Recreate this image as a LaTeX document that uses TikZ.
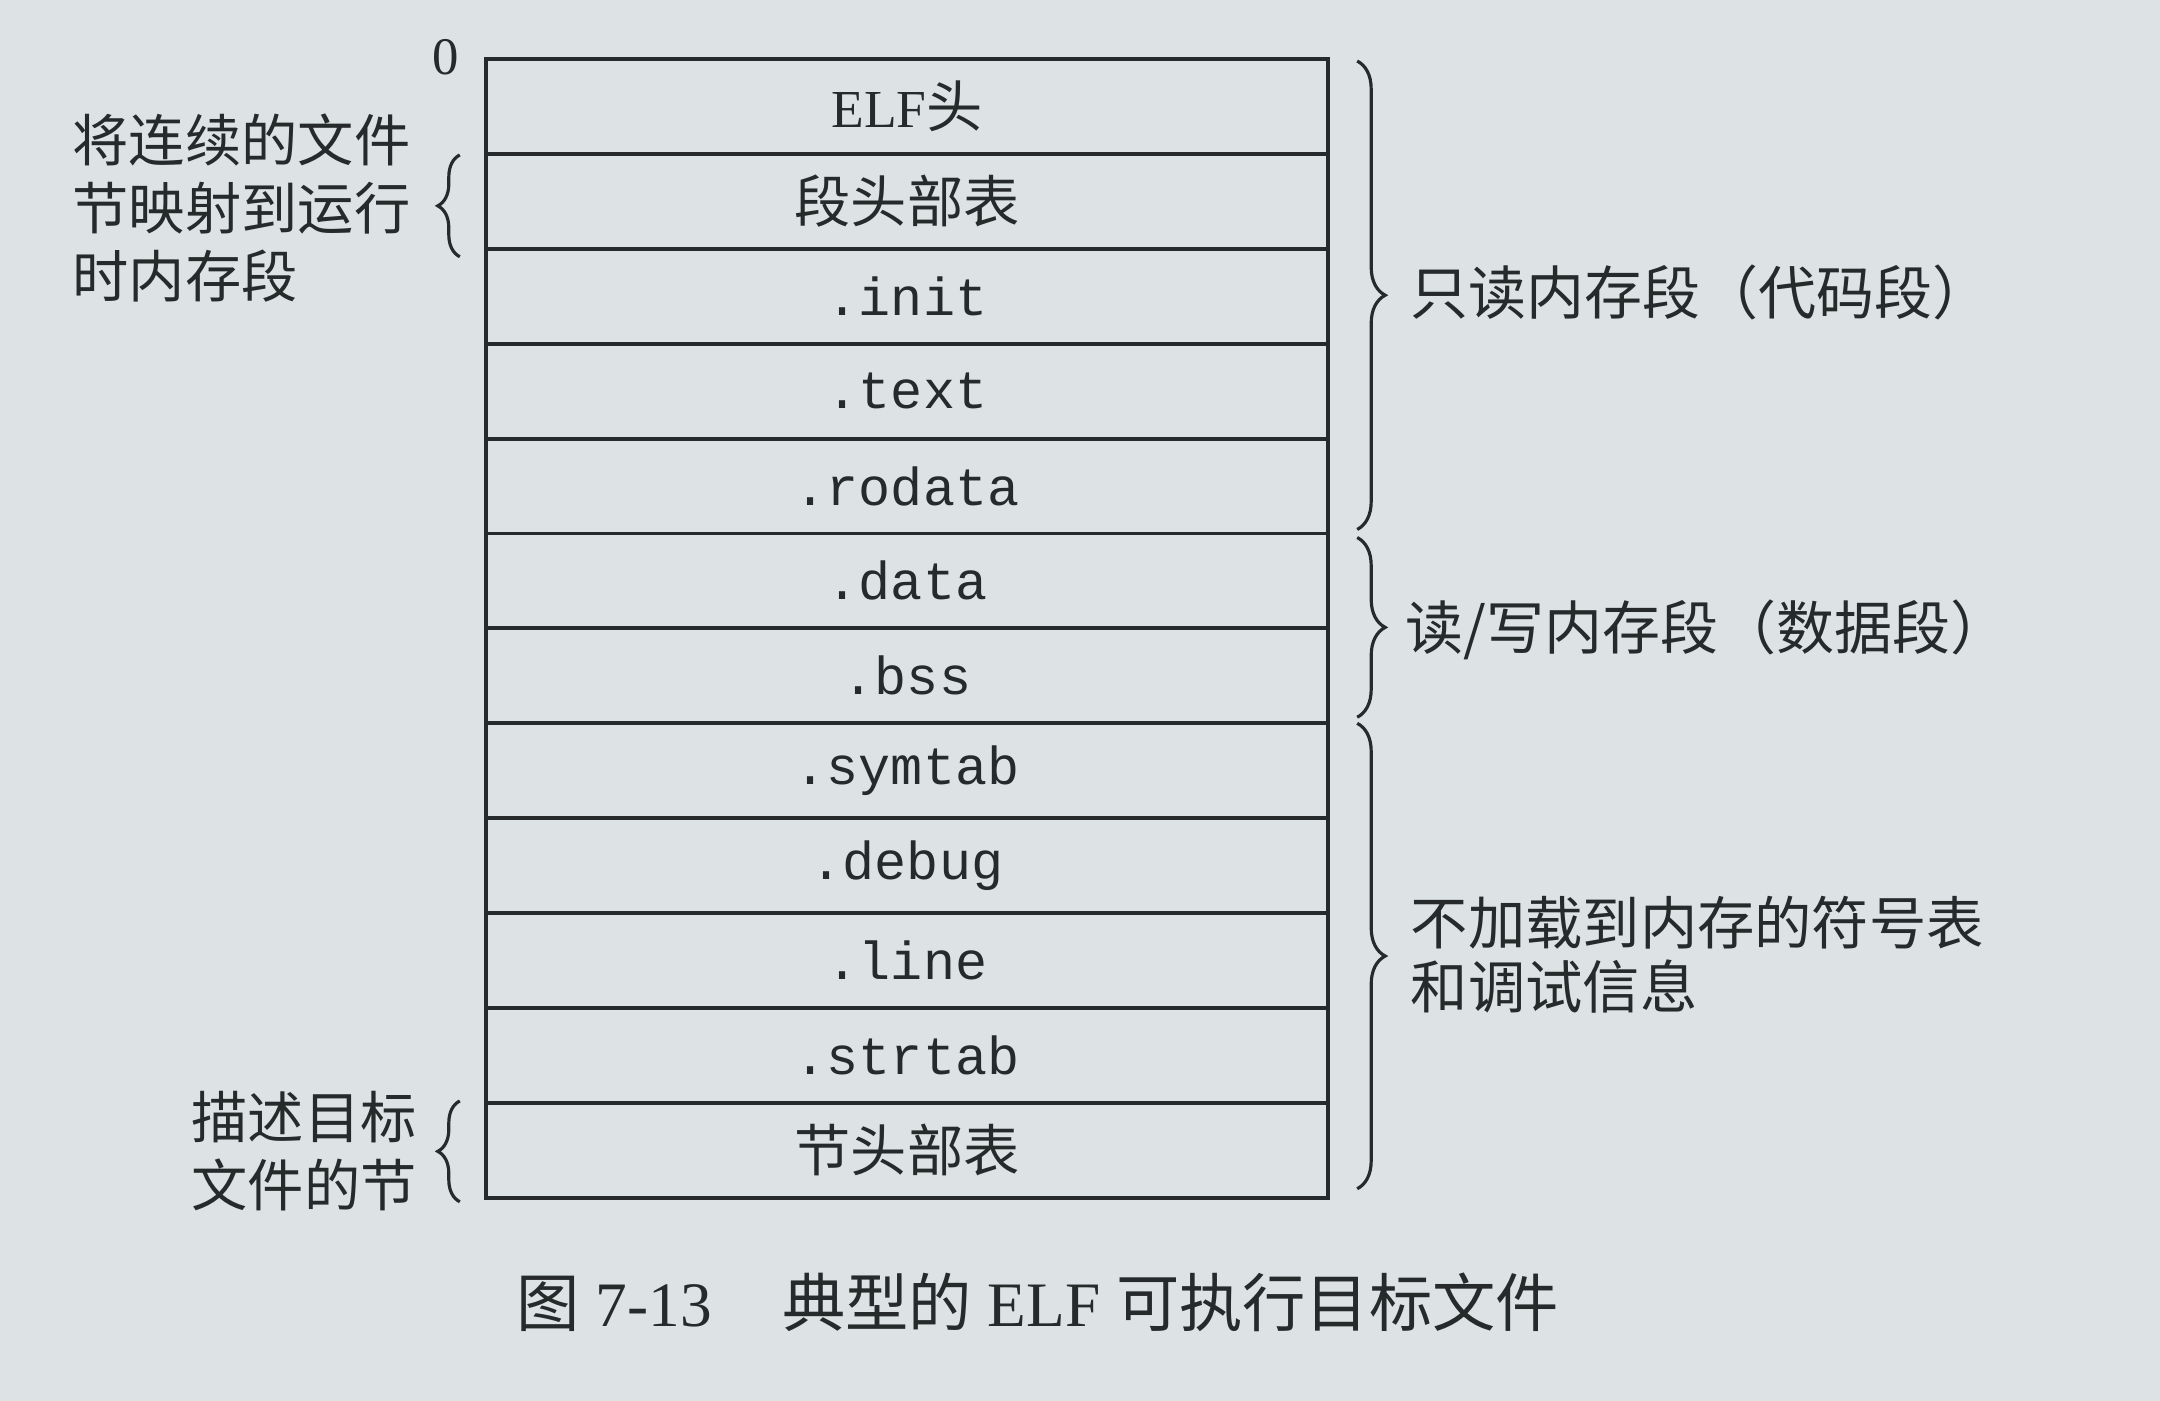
\documentclass[tikz,border=0pt]{standalone}
\usepackage{fontspec}
\setmainfont{Liberation Serif}
\setmonofont{Liberation Mono}
\newfontfamily\cjk{Noto Sans CJK SC}
\usetikzlibrary{decorations.pathreplacing}
\definecolor{paper}{RGB}{221,227,228}
\definecolor{ink}{RGB}{38,42,42}
\newcommand\zh[1]{{\fontsize{16}{19}\selectfont\cjk #1}}
\tikzset{
  sect/.style={draw=ink, line width=1.1pt, minimum width=8.42cm, minimum height=0.949cm,
    inner sep=0pt, text=ink, font=\fontsize{15.2}{18}\selectfont\ttfamily},
  rbrace/.style={draw=ink, line width=0.9pt, decorate, decoration={brace, amplitude=0.28cm}},
  lbrace/.style={draw=ink, line width=0.9pt, decorate, decoration={brace, amplitude=0.22cm}},
  note/.style={text=ink, inner sep=0pt, align=left, anchor=west},
}
\begin{document}
\begin{tikzpicture}[x=0.01cm,y=-0.01cm]
  \fill[paper] (0,0) rectangle (2160,1401);
  \useasboundingbox (0,0) rectangle (2160,1401);
  % the sections, top to bottom
  \foreach \name/\lab [count=\i] in {elf/{\rmfamily ELF\zh{头}},phdr/{\zh{段头部表}},
      init/.init,text/.text,rodata/.rodata,data/.data,bss/.bss,symtab/.symtab,
      debug/.debug,line/.line,strtab/.strtab,shdr/{\zh{节头部表}}}
    \node[sect] (\name) at (907,59+94.9*\i-47.45) {\lab};
  \node[text=ink, font=\fontsize{15}{18}\selectfont] (zero) at ([xshift=-0.38cm]elf.north west) {0};
  % right braces
  \draw[rbrace] ([xshift=0.27cm,yshift=-0.04cm]elf.north east) -- ([xshift=0.27cm,yshift=0.06cm]rodata.south east);
  \draw[rbrace] ([xshift=0.27cm,yshift=-0.06cm]data.north east) -- ([xshift=0.27cm,yshift=0.08cm]bss.south east);
  \draw[rbrace] ([xshift=0.27cm,yshift=-0.02cm]symtab.north east) -- ([xshift=0.27cm,yshift=0.11cm]shdr.south east);
  \node[note, font=\fontsize{16.5}{19}\selectfont\cjk] (ro) at (1410,292) {只读内存段（代码段）};
  \node[note, font=\fontsize{16.5}{19}\selectfont\cjk] (rw) at (1405,630) {读/写内存段（数据段）};
  \node[note, font=\fontsize{16.3}{18.2}\selectfont\cjk] (nl) at (1410,955) {不加载到内存的符号表\\和调试信息};
  % left braces
  \draw[lbrace] ([xshift=-0.24cm,yshift=-0.06cm]phdr.south west) -- ([xshift=-0.24cm,yshift=-0.03cm]phdr.north west);
  \draw[lbrace] ([xshift=-0.24cm,yshift=-0.02cm]shdr.south west) -- ([xshift=-0.24cm,yshift=0.0cm]shdr.north west);
  \node[note, font=\fontsize{16}{19.3}\selectfont\cjk] (map) at (72,208) {将连续的文件\\节映射到运行\\时内存段};
  \node[note, font=\fontsize{16}{19.3}\selectfont\cjk] (desc) at (191,1151) {描述目标\\文件的节};
  % caption
  \node[text=ink, font=\fontsize{18}{20}\selectfont] (cap) at (1038,1302)
    {{\cjk 图} 7-13\hspace{0.7cm}{\cjk 典型的} ELF {\cjk 可执行目标文件}};
\end{tikzpicture}
\end{document}
